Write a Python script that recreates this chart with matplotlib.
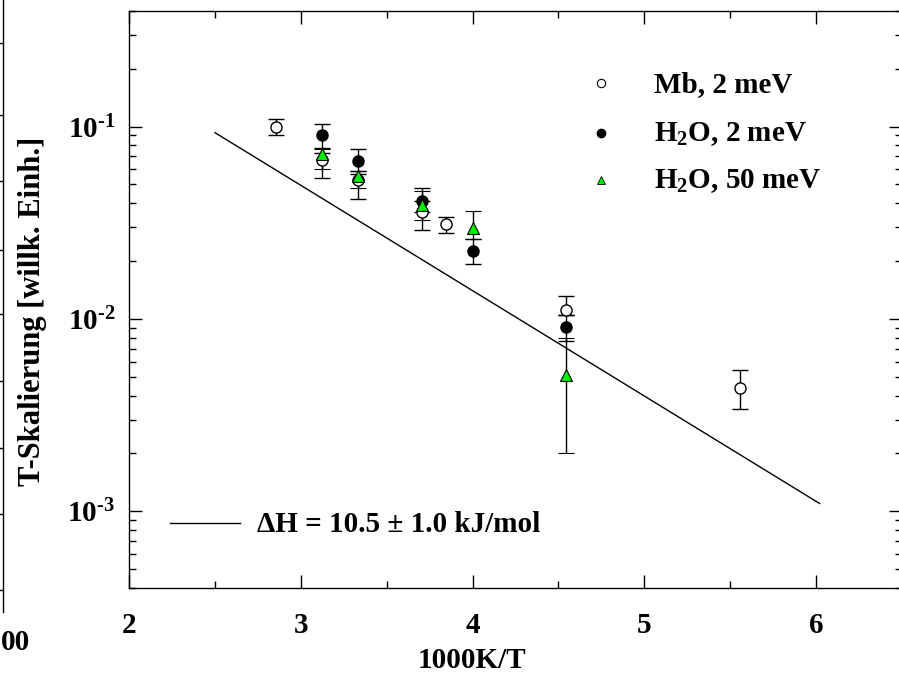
import matplotlib
matplotlib.use("Agg")
import matplotlib.pyplot as plt
from matplotlib.lines import Line2D
from matplotlib.ticker import FixedLocator, FixedFormatter, LogLocator, MultipleLocator, NullFormatter

plt.rcParams['font.family'] = 'Liberation Serif'
plt.rcParams['font.weight'] = 'bold'
plt.rcParams['mathtext.fontset'] = 'custom'
plt.rcParams['mathtext.rm'] = 'Liberation Serif:bold'
plt.rcParams['mathtext.bf'] = 'Liberation Serif:bold'
plt.rcParams['mathtext.it'] = 'Liberation Serif:bold:italic'
plt.rcParams['mathtext.default'] = 'bf'

# Mb, 2 meV (offene Kreise)
mb_x = [2.857, 3.125, 3.333, 3.704, 3.846, 4.545, 5.556]
mb_y = [0.100, 0.067, 0.053, 0.036, 0.031, 0.0112, 0.0044]
mb_lo = [0.090, 0.054, 0.042, 0.029, 0.028, 0.0105, 0.0034]
mb_hi = [0.110, 0.073, 0.057, 0.041, 0.034, 0.0132, 0.0054]

# H2O, 2 meV (volle Kreise)
h2o2_x = [3.125, 3.333, 3.704, 4.0, 4.545]
h2o2_y = [0.090, 0.066, 0.041, 0.0226, 0.0091]
h2o2_lo = [0.077, 0.059, 0.036, 0.0192, 0.0077]
h2o2_hi = [0.103, 0.0766, 0.048, 0.026, 0.0105]

# H2O, 50 meV (gruene Dreiecke)
h2o50_x = [3.125, 3.333, 3.704, 4.0, 4.545]
h2o50_y = [0.072, 0.0555, 0.039, 0.0297, 0.0051]
h2o50_lo = [0.060, 0.048, 0.0327, 0.026, 0.0020]
h2o50_hi = [0.076, 0.059, 0.0464, 0.0365, 0.0080]

# Arrhenius-Gerade
fit_x = [2.5, 6.02]
fit_y = [0.093, 0.0011]

ytick_vals = [1e-3, 1e-2, 1e-1]
ytick_labels = [r'$10^{\text{-}3}$', r'$10^{\text{-}2}$', r'$10^{\text{-}1}$']
xtick_vals = [2, 3, 4, 5, 6]

W, H = 899, 685
fig = plt.figure(figsize=(W / 100, H / 100), dpi=100)
ax = fig.add_axes([129 / W, 1 - 588 / H, (902 - 129) / W, (588 - 10.7) / H])


def errs(y, lo, hi):
    return [[v - l for v, l in zip(y, lo)], [h - v for v, h in zip(y, hi)]]


ax.plot(fit_x, fit_y, color='black', lw=1.0)
ekw = dict(ecolor='black', elinewidth=1.0, capsize=6, capthick=1.0, linestyle='none')
ax.errorbar(mb_x, mb_y, yerr=errs(mb_y, mb_lo, mb_hi), marker='o', ms=8,
            mfc='white', mec='black', mew=1.0, **ekw)
ax.errorbar(h2o2_x, h2o2_y, yerr=errs(h2o2_y, h2o2_lo, h2o2_hi), marker='o', ms=8,
            mfc='black', mec='black', mew=1.0, **ekw)
ax.errorbar(h2o50_x, h2o50_y, yerr=errs(h2o50_y, h2o50_lo, h2o50_hi), marker='^', ms=8,
            mfc='#00ee00', mec='black', mew=0.8, **ekw)

ax.set_yscale('log')
ax.set_xlim(2, 6.5)
ax.set_ylim(4e-4, 0.4)
ax.xaxis.set_major_locator(FixedLocator(xtick_vals))
ax.xaxis.set_minor_locator(MultipleLocator(0.5))
ax.yaxis.set_major_locator(FixedLocator(ytick_vals))
ax.yaxis.set_major_formatter(FixedFormatter(ytick_labels))
ax.yaxis.set_minor_locator(LogLocator(base=10, subs=range(2, 10)))
ax.yaxis.set_minor_formatter(NullFormatter())
ax.tick_params(which='both', direction='in', top=True, right=True, width=1.0)
ax.tick_params(which='major', length=9.5, labelsize=21)
ax.tick_params(axis='x', which='major', pad=17)
ax.tick_params(axis='y', which='major', pad=10)
ax.tick_params(which='minor', length=5)
for sp in ax.spines.values():
    sp.set_linewidth(1.0)

# Legende von Hand
leg_x = (601 - 129) / 773
txt_x = (654 - 129) / 773
ax.plot([leg_x], [(588 - 83) / 577], 'o', ms=6, mfc='white', mec='black', mew=0.8,
        transform=ax.transAxes, clip_on=False)
ax.plot([leg_x], [(588 - 133) / 577], 'o', ms=6, mfc='black', mec='black',
        transform=ax.transAxes, clip_on=False)
ax.plot([leg_x], [(588 - 180) / 577], '^', ms=6, mfc='#00ee00', mec='black', mew=0.6,
        transform=ax.transAxes, clip_on=False)
ax.text(txt_x, (588 - 92) / 577, 'Mb, 2 meV', transform=ax.transAxes, fontsize=21,
        fontweight='bold', va='baseline')
ax.text(txt_x, (588 - 141) / 577, r'H$_2$O, 2 meV', transform=ax.transAxes, fontsize=21,
        fontweight='bold', va='baseline')
ax.text(txt_x, (588 - 188) / 577, r'H$_2$O, 50 meV', transform=ax.transAxes, fontsize=21,
        fontweight='bold', va='baseline')

ax.plot([(170 - 129) / 773, (240 - 129) / 773], [(588 - 523) / 577] * 2, color='black',
        lw=1.0, transform=ax.transAxes)
ax.text((257 - 129) / 773, (588 - 532) / 577, '\u0394H = 10.5 \u00b1 1.0 kJ/mol',
        transform=ax.transAxes, fontsize=21, fontweight='bold', va='baseline')

fig.text(472 / W, 1 - 660 / H, '1000K/T', fontsize=21, fontweight='bold',
         ha='center', va='center')
fig.text(33 / W, 1 - 311 / H, 'T-Skalierung [willk. Einh.]', fontsize=22,
         fontweight='bold', rotation=90, ha='center', va='center')

# Rest des Nachbarbildes am linken Rand
fig.add_artist(Line2D([3 / W, 3 / W], [1, 1 - 612 / H], color='black', lw=1.0))
for py in [43, 115, 181, 250, 314, 381, 448, 514, 590]:
    fig.add_artist(Line2D([0, 3 / W], [1 - py / H] * 2, color='black', lw=1.0))
fig.text(1 / W, 1 - 643 / H, '00', fontsize=21, fontweight='bold', ha='left', va='center')

fig.savefig('out.png', dpi=100)
